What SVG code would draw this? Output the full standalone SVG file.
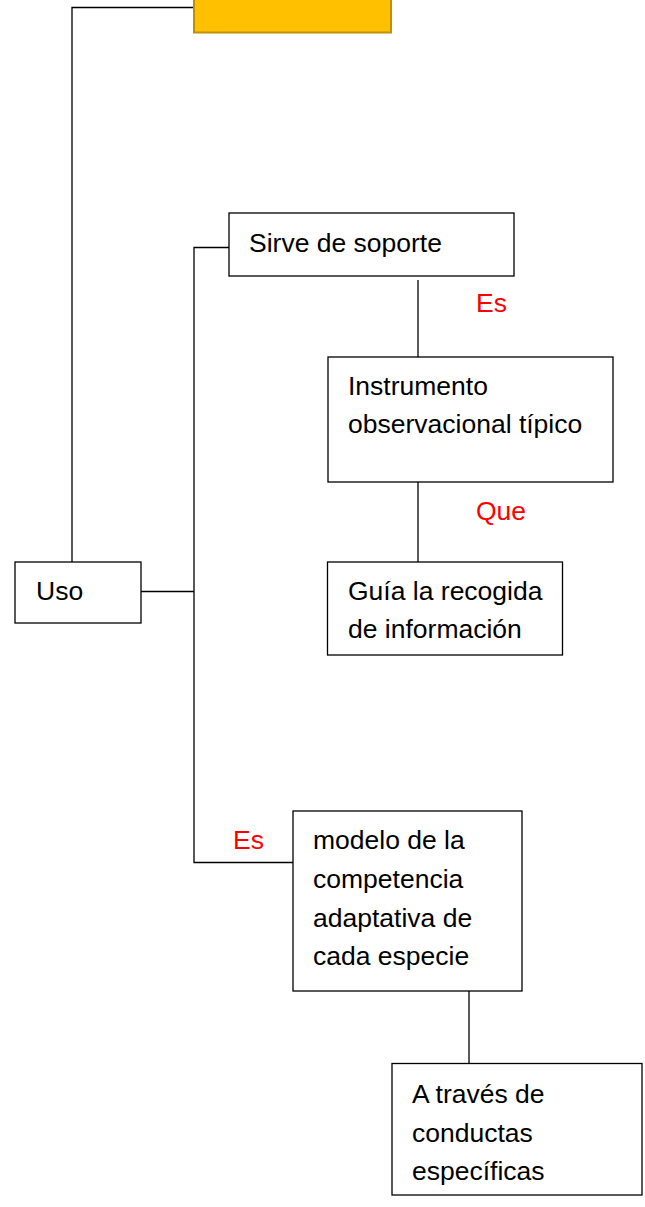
<svg xmlns="http://www.w3.org/2000/svg" width="645" height="1207" viewBox="0 0 645 1207">
<style>
.box{fill:#fff;stroke:#000;stroke-width:1.3}
.t{font-family:"Liberation Sans",Arial,sans-serif;font-size:26.5px;fill:#000}
.lbl{font-family:"Liberation Sans",Arial,sans-serif;font-size:26.5px;fill:#ff0000}
.c{fill:none;stroke:#000;stroke-width:1.3}
</style>
<rect width="645" height="1207" fill="#fff"/>
<g id="connectors">
<polyline class="c" points="194,7.5 72,7.5 72,562"/>
<polyline class="c" points="141,591.5 194,591.5"/>
<polyline class="c" points="229,247.5 194,247.5 194,862.5 293,862.5"/>
<line class="c" x1="418" y1="280" x2="418" y2="357"/>
<line class="c" x1="418" y1="482" x2="418" y2="562"/>
<line class="c" x1="469" y1="991" x2="469" y2="1063"/>
<text class="lbl" x="476" y="311.7">Es</text>
<text class="lbl" x="476" y="520">Que</text>
<text class="lbl" x="233" y="849">Es</text>
</g>
<g id="top">
<rect x="194" y="-10" width="197" height="42.5" fill="#FFC000" stroke="#BF9000" stroke-width="2"/>
</g>
<g id="uso">
<rect class="box" x="15" y="562" width="126" height="61"/>
<text class="t" x="36" y="600">Uso</text>
</g>
<g id="sirve">
<rect class="box" x="229" y="213" width="285" height="63"/>
<text class="t" x="249" y="251.5">Sirve de soporte</text>
</g>
<g id="instrumento">
<rect class="box" x="328" y="357" width="285" height="125"/>
<text class="t" x="348" y="395">Instrumento</text>
<text class="t" x="348" y="433">observacional típico</text>
</g>
<g id="guia">
<rect class="box" x="327.5" y="562" width="235" height="93"/>
<text class="t" x="348" y="599.5">Guía la recogida</text>
<text class="t" x="348" y="638">de información</text>
</g>
<g id="modelo">
<rect class="box" x="293" y="811" width="229" height="180"/>
<text class="t" x="313" y="849">modelo de la</text>
<text class="t" x="313" y="887.5">competencia</text>
<text class="t" x="313" y="926.5">adaptativa de</text>
<text class="t" x="313" y="965">cada especie</text>
</g>
<g id="traves">
<rect class="box" x="392" y="1063.5" width="250" height="131.5"/>
<text class="t" x="412" y="1103">A través de</text>
<text class="t" x="412" y="1141.5">conductas</text>
<text class="t" x="412" y="1180">específicas</text>
</g>
</svg>
